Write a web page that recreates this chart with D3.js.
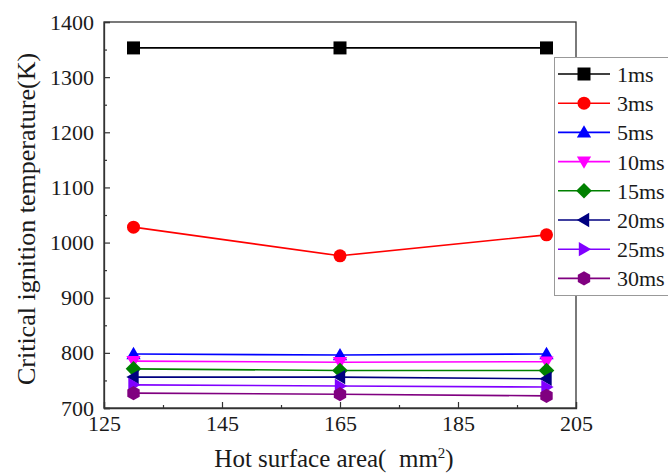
<!DOCTYPE html>
<html>
<head>
<meta charset="utf-8">
<script src="https://cdn.jsdelivr.net/npm/d3@7"></script>
<style>
  body { margin: 0; background: #fff; }
  text { font-family: "Liberation Serif", "Times New Roman", serif; fill: #1a1a1a; }
</style>
</head>
<body>
<div id="chart"></div>
<script>
const areas = [130, 165, 200];
const seriesNames = ["1ms", "3ms", "5ms", "10ms", "15ms", "20ms", "25ms", "30ms"];
const t1 = [1353, 1353, 1353];
const t3 = [1028, 976, 1014];
const t5 = [798, 796, 798];
const t10 = [785, 783, 784];
const t15 = [771, 768, 768];
const t20 = [756, 756, 753];
const t25 = [742, 740, 738];
const t30 = [727, 725, 722];
const seriesValues = [t1, t3, t5, t10, t15, t20, t25, t30];
const colors = ["#000000", "#ff0000", "#0000ff", "#ff00ff", "#008000", "#000080", "#8000ff", "#800080"];
const shapes = ["square", "circle", "up", "down", "diamond", "left", "right", "hex"];
const xTicks = [125, 145, 165, 185, 205];
const yTicks = [700, 800, 900, 1000, 1100, 1200, 1300, 1400];

const width = 668, height = 473;
const margin = { top: 22, right: 92, bottom: 65, left: 104 };

const svg = d3.select("#chart").append("svg")
    .attr("width", width)
    .attr("height", height);

const x = d3.scaleLinear().domain([125, 205]).range([margin.left, width - margin.right]);
const y = d3.scaleLinear().domain([700, 1400]).range([height - margin.bottom, margin.top]);

// frame
svg.append("rect")
    .attr("x", margin.left).attr("y", margin.top)
    .attr("width", x(205) - x(125)).attr("height", y(700) - y(1400))
    .attr("fill", "none").attr("stroke", "#333").attr("stroke-width", 1.3);

// axes, ticks point inward
svg.append("g")
    .attr("transform", `translate(0,${y(700)})`)
    .call(d3.axisBottom(x).tickValues(xTicks).tickSize(-6).tickPadding(7).tickFormat(d3.format("d")));
svg.append("g")
    .attr("transform", `translate(0,${y(700)})`)
    .call(d3.axisBottom(x).tickValues([135, 155, 175, 195]).tickSize(-3).tickFormat(""))
    .call(g => g.select(".domain").remove());

svg.append("g")
    .attr("transform", `translate(${x(125)},0)`)
    .call(d3.axisLeft(y).tickValues(yTicks).tickSize(-6).tickPadding(10).tickFormat(d3.format("d")));
svg.append("g")
    .attr("transform", `translate(${x(125)},0)`)
    .call(d3.axisLeft(y).tickValues(d3.range(750, 1400, 100)).tickSize(-3).tickFormat(""))
    .call(g => g.select(".domain").remove());

svg.selectAll(".domain").attr("stroke", "#333").attr("stroke-width", 1.3);
svg.selectAll(".tick line").attr("stroke", "#333").attr("stroke-width", 1.2);
svg.selectAll(".tick text")
    .style("font-family", "'Liberation Serif', serif")
    .style("font-size", "22px")
    .attr("fill", "#1a1a1a");

// axis titles
svg.append("text")
    .attr("x", 334).attr("y", 467)
    .attr("text-anchor", "middle")
    .style("font-size", "25px")
    .html("Hot surface area(\u00a0 mm<tspan dy='-9' font-size='15'>2</tspan><tspan dy='9'>)</tspan>");

svg.append("text")
    .attr("transform", `translate(35,219) rotate(-90)`)
    .attr("text-anchor", "middle")
    .style("font-size", "26px")
    .text("Critical ignition temperature(K)");

function markerPath(shape, s) {
    const h = s / 2;
    switch (shape) {
        case "square": return `M${-h},${-h}H${h}V${h}H${-h}Z`;
        case "circle": return d3.symbol(d3.symbolCircle, Math.PI * h * h)();
        case "up": return `M0,${-h * 1.1}L${h * 1.1},${h * 0.8}H${-h * 1.1}Z`;
        case "down": return `M0,${h * 1.1}L${h * 1.1},${-h * 0.8}H${-h * 1.1}Z`;
        case "diamond": return `M0,${-h * 1.2}L${h * 1.2},0L0,${h * 1.2}L${-h * 1.2},0Z`;
        case "left": return `M${-h * 1.1},0L${h * 0.8},${-h * 1.1}V${h * 1.1}Z`;
        case "right": return `M${h * 1.1},0L${-h * 0.8},${-h * 1.1}V${h * 1.1}Z`;
        case "hex": {
            const pts = d3.range(6).map(i => {
                const a = Math.PI / 6 + i * Math.PI / 3;
                return [Math.cos(a) * h * 1.1, Math.sin(a) * h * 1.1];
            });
            return "M" + pts.join("L") + "Z";
        }
    }
}

const line = d3.line().x(d => x(d[0])).y(d => y(d[1]));

seriesValues.forEach((vals, i) => {
    const pts = areas.map((a, j) => [a, vals[j]]);
    svg.append("path")
        .attr("d", line(pts))
        .attr("fill", "none")
        .attr("stroke", colors[i])
        .attr("stroke-width", 1.6);
    svg.selectAll(null).data(pts).enter().append("path")
        .attr("transform", d => `translate(${x(d[0])},${y(d[1])})`)
        .attr("d", markerPath(shapes[i], 13))
        .attr("fill", colors[i]);
});

// legend
const legend = svg.append("g");
legend.append("rect")
    .attr("x", 554.5).attr("y", 57.5)
    .attr("width", 130).attr("height", 238)
    .attr("fill", "#fff").attr("stroke", "#999").attr("stroke-width", 1);

seriesNames.forEach((name, i) => {
    const ly = 74 + i * 29.2;
    legend.append("line")
        .attr("x1", 558).attr("x2", 610).attr("y1", ly).attr("y2", ly)
        .attr("stroke", colors[i]).attr("stroke-width", 1.6);
    legend.append("path")
        .attr("transform", `translate(584,${ly})`)
        .attr("d", markerPath(shapes[i], 13))
        .attr("fill", colors[i]);
    legend.append("text")
        .attr("x", 617).attr("y", ly + 8)
        .style("font-size", "22px")
        .text(name);
});
</script>
</body>
</html>
